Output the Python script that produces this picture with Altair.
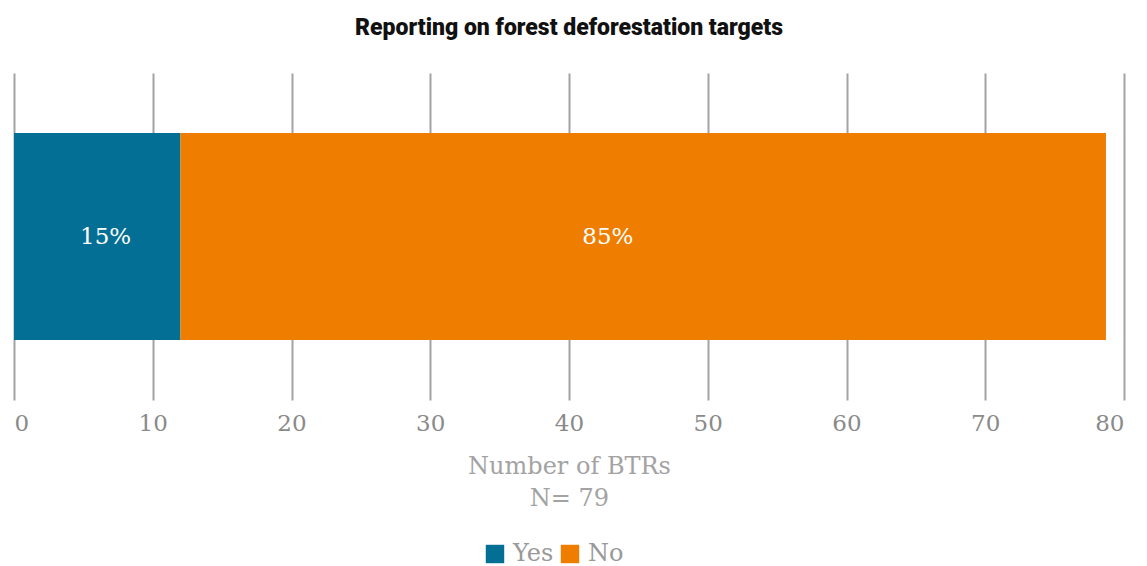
import altair as alt
import pandas as pd

categories = ["Yes", "No"]
counts = [12, 66.7]
pct_labels = ["15%", "85%"]
label_pos = [6.6, 42.8]
colors = ["#036f94", "#ef7d00"]
tick_values = [0, 10, 20, 30, 40, 50, 60, 70, 80]

starts = []
acc = 0
for c in counts:
    starts.append(acc)
    acc += c
df = pd.DataFrame({
    "answer": categories,
    "count": counts,
    "start": starts,
    "end": [s + c for s, c in zip(starts, counts)],
    "lpos": label_pos,
    "label": pct_labels,
    "row": ["r"] * len(categories),
})

SERIF = "Georgia, DejaVu Serif, serif"

y_enc = alt.Y("row:N", axis=None, scale=alt.Scale(paddingInner=0, paddingOuter=0.29))

bars = alt.Chart(df).mark_bar().encode(
    x=alt.X(
        "start:Q",
        scale=alt.Scale(domain=[0, 80], nice=False),
        axis=alt.Axis(
            values=tick_values,
            grid=True,
            gridColor="#a3a3a3",
            gridWidth=2,
            domain=False,
            ticks=False,
            labelFont=SERIF,
            labelFontSize=23,
            labelColor="#8a8a8a",
            labelPadding=12,
            title=["Number of BTRs", "N= 79"],
            titleFont=SERIF,
            titleFontSize=24,
            titleFontWeight="normal",
            titleColor="#a3a3a3",
            titleLineHeight=32,
            titlePadding=19,
        ),
    ),
    x2="end:Q",
    y=y_enc,
    color=alt.Color(
        "answer:N",
        scale=alt.Scale(domain=categories, range=colors),
        legend=alt.Legend(
            title=None,
            orient="none",
            direction="horizontal",
            legendX=469,
            legendY=469,
            symbolType="square",
            symbolSize=340,
            symbolStrokeWidth=0,
            symbolOpacity=1,
            labelFont=SERIF,
            labelFontSize=24,
            labelColor="#999999",
            labelOffset=6,
            columnPadding=4,
        ),
    ),
)

text = alt.Chart(df).mark_text(
    font=SERIF, fontSize=23, color="white", baseline="middle"
).encode(
    x=alt.X("lpos:Q"),
    y=y_enc,
    text="label:N",
)

chart = (bars + text).properties(
    width=1110,
    height=327,
    title=alt.TitleParams(
        "Reporting on forest deforestation targets",
        font="Roboto",
        fontSize=23,
        fontWeight=900,
        color="#111111",
        anchor="middle",
        offset=33,
    ),
    padding={"left": 14, "top": 73, "right": 23, "bottom": 166},
    autosize=alt.AutoSizeParams(type="none"),
).configure_view(stroke=None)

chart.save("out.html", embed_options={"renderer": "svg", "actions": False})
